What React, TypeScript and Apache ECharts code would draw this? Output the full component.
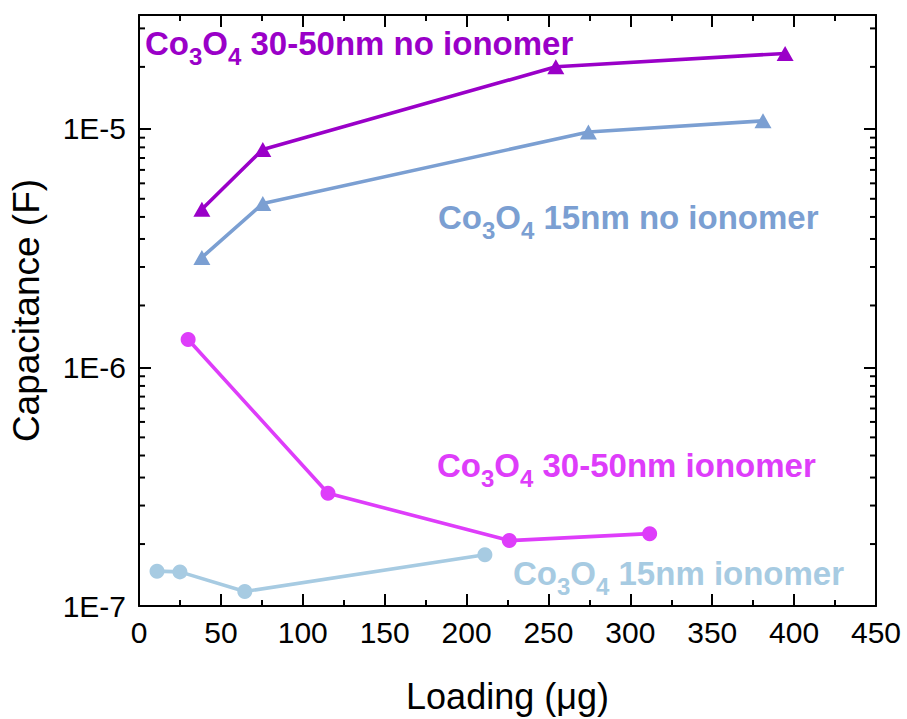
import React, { useEffect, useRef } from 'react';
import * as echarts from 'echarts';

// Loading (µg) and capacitance (F) for each electrode type
const loading3050NoIonomer = [38.4, 75.6, 254.5, 394.5];
const cap3050NoIonomer = [4.6e-6, 8.2e-6, 1.82e-5, 2.07e-5];

const loading15NoIonomer = [38.4, 75.6, 274.4, 381.0];
const cap15NoIonomer = [2.89e-6, 4.86e-6, 9.7e-6, 1.08e-5];

const loading3050Ionomer = [30.0, 115.4, 226.1, 311.8];
const cap3050Ionomer = [1.31e-6, 2.97e-7, 1.88e-7, 2.01e-7];

const loading15Ionomer = [11.0, 25.0, 64.6, 211.2];
const cap15Ionomer = [1.4e-7, 1.39e-7, 1.15e-7, 1.64e-7];

// Axis ranges
const xMin = 0;
const xMax = 450;
const xStep = 50;
const yMin = 1e-7;
const yMax = 3e-5;
const yDecades = [1e-7, 1e-6, 1e-5];
// ten evenly spaced minor ticks inside each decade
const minorSteps = [1, 2, 3, 4, 5, 6, 7, 8, 9, 10];

const colors = {
  nm3050NoIonomer: '#9A00C8',
  nm15NoIonomer: '#7B9FD2',
  nm3050Ionomer: '#DE3DFA',
  nm15Ionomer: '#A7CBE2',
};

const FONT = "'Liberation Sans', Arial, Helvetica, sans-serif";

const zip = (xs: number[], ys: number[]) => xs.map((x, i) => [x, ys[i]]);

const minorYTicks: number[] = [];
yDecades.forEach((d) => {
  minorSteps.forEach((k) => {
    const v = d * (1 + (k * 9) / 11);
    if (v < yMax) minorYTicks.push(v);
  });
});

function chemLabel(rest: string, color: string, left: number, top: number) {
  return {
    type: 'text',
    left,
    top,
    silent: true,
    style: {
      text: `{m|Co}{s|3}{m|O}{s|4}{m| ${rest}}`,
      rich: {
        m: { fontSize: 33, fontWeight: 'bold', fontFamily: FONT, fill: color, lineHeight: 36 },
        // subscript digits sit below the baseline of the main text
        s: { fontSize: 24, fontWeight: 'bold', fontFamily: FONT, fill: color, height: 10, lineHeight: 10, verticalAlign: 'bottom' },
      },
    },
  };
}

const lineSeries = (name: string, data: number[][], color: string, symbol: string, size: number | number[]) => ({
  name,
  type: 'line',
  data,
  symbol,
  symbolSize: size,
  lineStyle: { color, width: 3.6 },
  itemStyle: { color },
  z: 3,
});

export default function App() {
  const ref = useRef<HTMLDivElement>(null);

  useEffect(() => {
    if (!ref.current) return;
    const chart = echarts.init(ref.current, undefined, { renderer: 'svg' });

    const tickStyle = { color: '#000', width: 2 };
    const xAxisBase = {
      type: 'value',
      min: xMin,
      max: xMax,
      interval: xStep,
      axisLine: { show: true, onZero: false, lineStyle: tickStyle },
      axisTick: { show: true, inside: true, length: 12, lineStyle: tickStyle },
      minorTick: { show: true, splitNumber: 2, length: 6, lineStyle: tickStyle },
      splitLine: { show: false },
    };
    const yAxisBase = {
      type: 'log',
      logBase: 10,
      min: yMin,
      max: yMax,
      axisLine: { show: true, onZero: false, lineStyle: tickStyle },
      axisTick: { show: true, inside: true, length: 12, lineStyle: tickStyle },
      splitLine: { show: false },
    };

    chart.setOption({
      animation: false,
      backgroundColor: '#fff',
      grid: { left: 138, right: 31, top: 15, bottom: 111, containLabel: false },
      xAxis: [
        {
          ...xAxisBase,
          position: 'bottom',
          name: 'Loading (μg)',
          nameLocation: 'middle',
          nameGap: 72,
          nameTextStyle: { fontSize: 36, fontFamily: FONT, color: '#000' },
          axisLabel: { fontSize: 30, fontFamily: FONT, color: '#000', margin: 11 },
        },
        { ...xAxisBase, position: 'top', axisLabel: { show: false } },
      ],
      yAxis: [
        {
          ...yAxisBase,
          position: 'left',
          name: 'Capacitance (F)',
          nameLocation: 'middle',
          nameGap: 94,
          nameTextStyle: { fontSize: 37, fontFamily: FONT, color: '#000' },
          axisLabel: {
            fontSize: 30,
            fontFamily: FONT,
            color: '#000',
            margin: 13,
            formatter: (v: number) => {
              const e = Math.log10(v);
              return Math.abs(e - Math.round(e)) < 1e-6 ? `1E${Math.round(e)}` : '';
            },
          },
        },
        { ...yAxisBase, position: 'right', axisLabel: { show: false } },
      ],
      series: [
        lineSeries('Co3O4 30-50nm no ionomer', zip(loading3050NoIonomer, cap3050NoIonomer), colors.nm3050NoIonomer, 'triangle', [17, 15]),
        lineSeries('Co3O4 15nm no ionomer', zip(loading15NoIonomer, cap15NoIonomer), colors.nm15NoIonomer, 'triangle', [17, 15]),
        lineSeries('Co3O4 30-50nm ionomer', zip(loading3050Ionomer, cap3050Ionomer), colors.nm3050Ionomer, 'circle', 15),
        lineSeries('Co3O4 15nm ionomer', zip(loading15Ionomer, cap15Ionomer), colors.nm15Ionomer, 'circle', 15),
        {
          // minor ticks of the log axis on the left and right frames
          type: 'custom',
          silent: true,
          clip: false,
          z: 5,
          data: minorYTicks.map((v) => [xMin, v]),
          encode: { x: 0, y: 1 },
          renderItem: (_params: any, api: any) => {
            const v = api.value(1);
            const l = api.coord([xMin, v]);
            const r = api.coord([xMax, v]);
            const st = { stroke: '#000', lineWidth: 2 };
            return {
              type: 'group',
              children: [
                { type: 'line', shape: { x1: l[0], y1: l[1], x2: l[0] + 6, y2: l[1] }, style: st },
                { type: 'line', shape: { x1: r[0] - 6, y1: r[1], x2: r[0], y2: r[1] }, style: st },
              ],
            };
          },
        },
      ],
      graphic: [
        chemLabel('30-50nm no ionomer', colors.nm3050NoIonomer, 145, 27),
        chemLabel('15nm no ionomer', colors.nm15NoIonomer, 438, 201),
        chemLabel('30-50nm ionomer', colors.nm3050Ionomer, 437, 449),
        chemLabel('15nm ionomer', colors.nm15Ionomer, 513, 557),
      ],
    });

    return () => chart.dispose();
  }, []);

  return (
    <div
      ref={ref}
      style={{ position: 'fixed', left: 0, top: 0, width: 907, height: 719, background: '#fff' }}
    />
  );
}
